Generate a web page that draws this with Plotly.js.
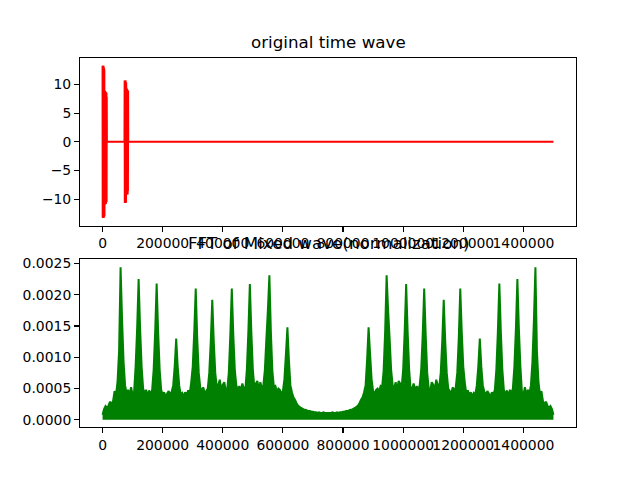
<!DOCTYPE html>
<html>
<head>
<meta charset="utf-8">
<script src="https://cdn.plot.ly/plotly-3.0.1.min.js"></script>
<style>html,body{margin:0;padding:0;background:#fff;}#chart{width:640px;height:480px;}</style>
</head>
<body>
<div id="chart"></div>
<script>
// ---- Data ----
const topTitle = 'original time wave';
const bottomTitle = 'FFT of Mixed wave(normalization)';

// original time wave: sample times and amplitudes
const timeX = [0,500,1000,1500,2000,2500,3000,3500,4000,4500,5000,5500,6000,6500,
  7000,7500,8000,8500,9000,9500,10000,10500,11000,11500,12000,12500,13000,13500,14000,
  14500,73000,
  73500,74000,74500,75000,75500,76000,76500,77000,77500,78000,78500,
  79000,79500,80000,80500,81000,81500,82000,82500,83000,83500,84000,84500,85000,
  85500,1500000];
const timeY = [13.3,-13.2,12.9,-13.3,13.1,-12.8,13.35,-13.1,12.7,-13.25,13.0,-12.9,12.6,-13.0,
  9.0,-11.0,8.8,-10.6,8.9,-10.9,8.5,-10.2,8.7,-10.8,8.2,-9.9,8.6,-10.5,7.9,
  0,0,
  10.7,-10.6,10.4,-10.7,10.5,-10.3,10.75,-10.5,10.2,-10.65,10.4,
  9.4,-9.2,9.1,-9.25,9.3,-8.9,9.2,-9.1,8.8,-9.2,9.0,-8.6,8.9,
  0,0];

// FFT magnitude (normalized), sampled every fftStep bins starting at bin 0
const fftStart = 0;
const fftStep = 5000;
const fftFirstHalf = [
  0.00008,0.00017,0.00022,0.00019,0.00023,0.00029,0.00025,0.00030,0.00046,0.00040,
  0.00062,0.00110,0.00244,0.00160,0.00092,0.00055,0.00042,0.00048,0.00040,0.00052,
  0.00040,0.00045,0.00085,0.00145,0.00225,0.00145,0.00085,0.00050,0.00042,0.00048,
  0.00038,0.00047,0.00040,0.00048,0.00080,0.00140,0.00218,0.00140,0.00080,0.00048,
  0.00040,0.00044,0.00036,0.00042,0.00046,0.00040,0.00045,0.00055,0.00085,0.00130,
  0.00085,0.00055,0.00040,0.00043,0.00037,0.00044,0.00040,0.00047,0.00042,0.00060,
  0.00085,0.00140,0.00210,0.00130,0.00075,0.00052,0.00046,0.00052,0.00042,0.00046,
  0.00050,0.00075,0.00125,0.00192,0.00125,0.00075,0.00052,0.00056,0.00064,0.00048,
  0.00056,0.00060,0.00046,0.00050,0.00075,0.00135,0.00210,0.00135,0.00080,0.00055,
  0.00048,0.00054,0.00046,0.00058,0.00050,0.00048,0.00080,0.00140,0.00217,0.00140,
  0.00080,0.00052,0.00058,0.00062,0.00048,0.00060,0.00050,0.00055,0.00080,0.00130,
  0.00175,0.00231,0.00140,0.00078,0.00052,0.00054,0.00045,0.00050,0.00048,0.00042,
  0.00046,0.00065,0.00105,0.00148,0.00095,0.00055,0.00044,0.00036,0.00032,0.00027,
  0.00023,0.00021,0.00019,0.00018,0.00016,0.00016,0.00015,0.00014,0.00014,0.00013,
  0.00013,0.00012,0.00012,0.00011,0.00012,0.00011,0.00011,0.00012,0.00011,0.00011,
  0.00011];
const fftSecondHalf = [
  0.00011,0.00011,0.00012,0.00011,0.00011,0.00012,0.00011,0.00012,0.00012,0.00013,
  0.00013,0.00014,0.00014,0.00015,0.00016,0.00016,0.00018,0.00019,0.00021,0.00023,
  0.00027,0.00032,0.00036,0.00044,0.00055,0.00095,0.00148,0.00105,0.00065,0.00046,
  0.00042,0.00048,0.00050,0.00045,0.00054,0.00052,0.00078,0.00140,0.00231,0.00175,
  0.00130,0.00080,0.00055,0.00050,0.00060,0.00048,0.00062,0.00058,0.00052,0.00080,
  0.00140,0.00217,0.00140,0.00080,0.00048,0.00050,0.00058,0.00046,0.00054,0.00048,
  0.00055,0.00080,0.00135,0.00210,0.00135,0.00075,0.00050,0.00046,0.00060,0.00056,
  0.00048,0.00064,0.00056,0.00052,0.00075,0.00125,0.00192,0.00125,0.00075,0.00050,
  0.00046,0.00042,0.00052,0.00046,0.00052,0.00075,0.00130,0.00210,0.00140,0.00085,
  0.00060,0.00042,0.00047,0.00040,0.00044,0.00037,0.00043,0.00040,0.00055,0.00085,
  0.00130,0.00085,0.00055,0.00045,0.00040,0.00046,0.00042,0.00036,0.00044,0.00040,
  0.00048,0.00080,0.00140,0.00218,0.00140,0.00080,0.00048,0.00040,0.00047,0.00038,
  0.00048,0.00042,0.00050,0.00085,0.00145,0.00225,0.00145,0.00085,0.00045,0.00040,
  0.00052,0.00040,0.00048,0.00042,0.00055,0.00092,0.00160,0.00244,0.00110,0.00062,
  0.00040,0.00046,0.00030,0.00025,0.00029,0.00023,0.00019,0.00022,0.00017,0.00008];
const fftY = fftFirstHalf.concat(fftSecondHalf);

// ---- Chart ----
const FONT = 'DejaVu Sans, Liberation Sans, sans-serif';
const axisCommon = {
  showline: true, mirror: true, linecolor: 'black', linewidth: 1.1,
  ticks: 'outside', ticklen: 4.9, tickwidth: 1.1, tickcolor: 'black',
  showgrid: false, zeroline: false, tickangle: 0, automargin: false,
  tickfont: {family: FONT, size: 13.9, color: 'black'}
};

const traces = [
  {x: timeX, y: timeY, type: 'scatter', mode: 'lines', xaxis: 'x', yaxis: 'y',
   line: {color: '#ff0000', width: 2, simplify: false}, hoverinfo: 'skip'},
  {y: fftY, x0: fftStart, dx: fftStep, type: 'scatter', mode: 'lines', xaxis: 'x2', yaxis: 'y2',
   fill: 'tozeroy', fillcolor: '#008000',
   line: {color: '#008000', width: 2, simplify: false}, hoverinfo: 'skip'}
];

const layout = {
  width: 640, height: 480,
  paper_bgcolor: 'white', plot_bgcolor: 'white',
  margin: {l: 80, r: 64, t: 57.6, b: 52.8, pad: 0},
  showlegend: false,
  font: {family: FONT, size: 13.9, color: 'black'},
  xaxis: Object.assign({}, axisCommon, {domain: [0, 1], anchor: 'y', range: [-75000, 1575000],
    tick0: 0, dtick: 200000, tickformat: 'd'}),
  yaxis: Object.assign({}, axisCommon, {domain: [0.5455, 1], anchor: 'x', range: [-14.65, 14.65],
    tick0: 0, dtick: 5}),
  xaxis2: Object.assign({}, axisCommon, {domain: [0, 1], anchor: 'y2', range: [-75000, 1575000],
    tick0: 0, dtick: 200000, tickformat: 'd'}),
  yaxis2: Object.assign({}, axisCommon, {domain: [0, 0.4545], anchor: 'x2', range: [-0.000115, 0.002566],
    tick0: 0, dtick: 0.0005, tickformat: '.4f'}),
  annotations: [
    {text: topTitle, xref: 'paper', yref: 'paper', x: 0.5, y: 1, xanchor: 'center', yanchor: 'bottom',
     yshift: 4, showarrow: false, font: {family: FONT, size: 16.7, color: 'black'}},
    {text: bottomTitle, xref: 'paper', yref: 'paper', x: 0.5, y: 0.4545, xanchor: 'center', yanchor: 'bottom',
     yshift: 4, showarrow: false, font: {family: FONT, size: 16.7, color: 'black'}}
  ]
};

Plotly.newPlot('chart', traces, layout, {staticPlot: true, displayModeBar: false});
</script>
</body>
</html>
